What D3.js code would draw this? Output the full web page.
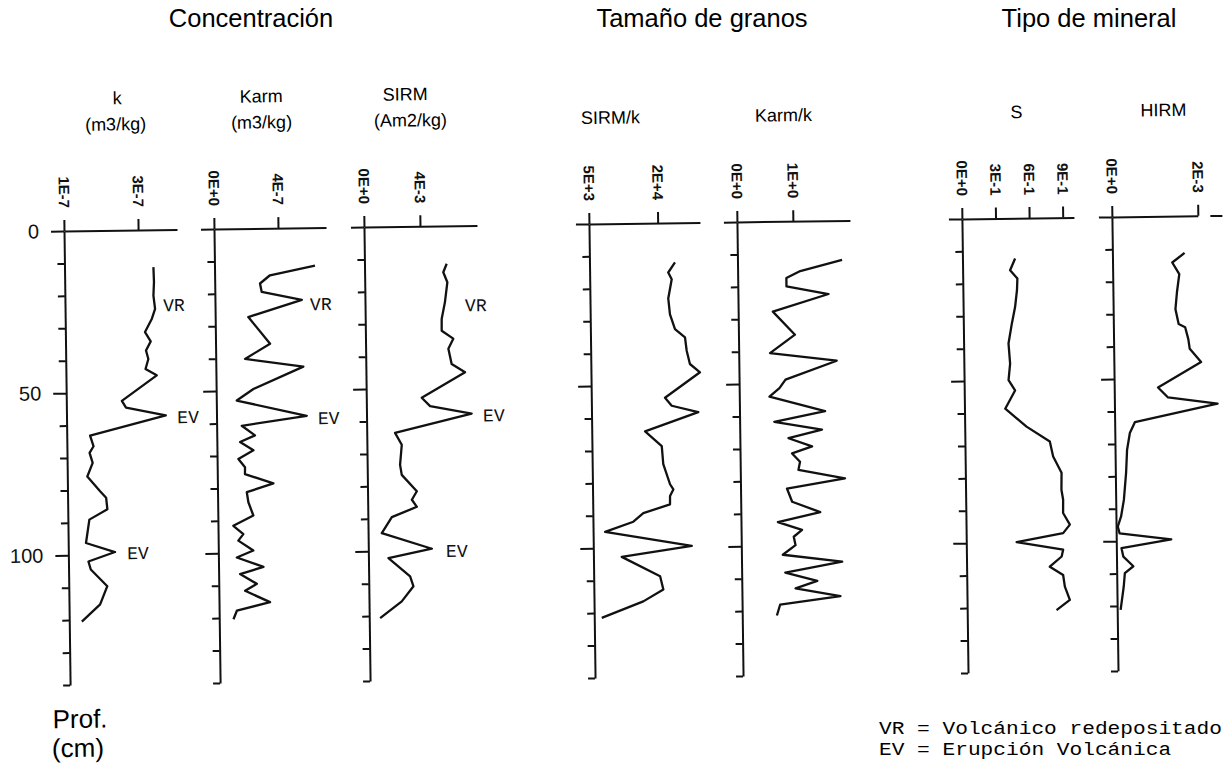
<!DOCTYPE html>
<html>
<head>
<meta charset="utf-8">
<script src="https://cdn.jsdelivr.net/npm/d3@7"></script>
<style>
  body { margin: 0; background: #fff; }
  .sans { font-family: "Liberation Sans", Arial, sans-serif; }
  .mono { font-family: "Liberation Mono", "Courier New", monospace; }
</style>
</head>
<body>
<div id="chart"></div>
<script>
// depth (cm) / value pairs
const kDepth = [11.5,16.1,20.3,24.4,27.4,31.5,34.4,37.2,39.8,42.9,44.9,52.6,54.7,57.3,63.2,66.5,68.5,71.6,75.8,80.4,82.4,86,89.1,96.3,99.2,102,104.5,109.7,115.3,120.5];
const kVal = [3.40,3.41,3.39,3.43,3.34,3.15,3.30,3.17,3.23,3.15,3.45,2.50,2.61,3.68,1.63,1.72,1.61,1.69,1.54,1.88,2.04,2.07,1.58,1.48,2.26,1.54,1.60,2.04,1.84,1.34].map(v => v * 1e-7);

const karmDepth = [11.7,14.5,17,19.6,22.2,27.3,35.6,40.2,42.8,49.5,53,58,60.8,63.8,65.8,68.4,71,73.6,75.7,78.7,81.3,84.4,88.5,91.6,94.2,96.2,99.3,101.4,104.4,106.5,109.6,111.7,115.3,117.8,120.4];
const karmVal = [6.28,3.46,2.83,2.93,5.43,2.07,3.41,1.83,5.47,2.33,1.28,5.64,1.57,2.39,1.45,2.28,1.33,1.74,1.73,3.5,1.83,1.92,2.22,0.96,1.58,1.26,2.19,1.15,2.81,1.34,2.38,1.64,3.19,1.11,0.89].map(v => v * 1e-7);

const sirmDepth = [11.7,14.3,17.4,23.5,28.7,32.3,34.8,37.9,42.6,45.2,52.9,55.5,58,63.6,67.3,73.5,76.6,81.7,84.3,86.5,89.6,94.5,99.5,102.2,107.9,111,115.6,120.7];
const sirmVal = [5.87,5.62,5.9,5.71,5.46,5.45,6.27,5.91,6.13,7.08,3.96,4.55,7.51,2.02,2.49,2.35,2.46,3.52,3.16,3.51,1.71,0.98,4.54,1.43,2.96,3.19,2.34,0.78].map(v => v * 1e-3);

const sirmkDepth = [12.2,15.3,17.4,23.3,28.2,32.8,35.4,39.5,43.6,46.2,53.9,56.4,58.5,64.2,68.8,74.4,80.6,82.2,84.2,86.8,89.4,92,95,99.7,102.8,108.9,113,116.6,121.5];
const sirmkVal = [23665,22160,22900,22090,22420,23470,25630,25960,26630,28800,21090,22530,28310,16640,20240,20520,21940,22640,21900,21870,16020,13820,7620,26500,11180,19500,20170,15760,6640];

const karmkDepth = [12.1,15.4,17.5,20.1,22.6,27.8,35,40.6,43.2,48.8,51.4,54,58.7,61.8,64.4,66.9,69.5,71.6,74.2,76.7,79.5,82.4,86.5,89.8,92.7,95.2,97.3,99.9,102.8,105.2,108.3,111,113.2,115.8,118.2,121.5];
const karmkVal = [1.87,1.12,0.87,0.87,1.62,0.62,1.01,0.56,1.75,0.83,0.72,0.54,1.53,0.62,1.47,0.87,1.29,0.93,1.07,1.04,1.87,0.83,0.92,1.42,0.66,1.09,0.94,0.97,0.74,1.80,0.78,1.35,0.96,1.76,0.68,0.62];

const sDepth = [12.4,16,18.6,22.2,27.4,32.5,38.6,44.8,49.9,53.1,58.7,64.3,69,73.6,78.7,83.9,87,91.1,94.7,97.3,99.9,102.4,104.5,107.6,110.2,113.8,117.9,121];
const sVal = [0.470,0.424,0.488,0.483,0.464,0.433,0.401,0.413,0.397,0.454,0.364,0.552,0.758,0.786,0.859,0.856,0.87,0.868,0.927,0.866,0.45,0.864,0.85,0.743,0.861,0.875,0.918,0.798];

const hirmDepth = [11.4,14.3,17.9,23.5,28.7,33.3,34.3,38,41,45.1,52.8,55.9,58,63.4,66.7,71.9,79,87.3,92.4,95.5,97.6,99.7,102.2,104.8,107.8,109.9,114,121.2];
const hirmVal = [1.68,1.39,1.55,1.49,1.45,1.52,1.67,1.74,1.77,2.03,1.02,1.25,2.40,0.47,0.35,0.28,0.25,0.19,0.12,0.04,0.08,1.28,0.12,0.16,0.39,0.19,0.16,0.08].map(v => v * 1e-3);

// top axis ticks
const kTicks = [1e-7, 3e-7], kTickLabels = ["1E-7", "3E-7"];
const karmTicks = [0, 4e-7], karmTickLabels = ["0E+0", "4E-7"];
const sirmTicks = [0, 4e-3], sirmTickLabels = ["0E+0", "4E-3"];
const sirmkTicks = [5e3, 2e4], sirmkTickLabels = ["5E+3", "2E+4"];
const karmkTicks = [0, 1], karmkTickLabels = ["0E+0", "1E+0"];
const sTicks = [0, 0.3, 0.6, 0.9], sTickLabels = ["0E+0", "3E-1", "6E-1", "9E-1"];
const hirmTicks = [0, 2e-3], hirmTickLabels = ["0E+0", "2E-3"];

const depthTicks = d3.range(0, 141, 10);

// VR / EV marks (panel index, depth, value at left edge of text)
const annText = ["VR", "EV", "EV", "VR", "EV", "VR", "EV", "EV"];
const annPanel = [0, 0, 0, 1, 1, 2, 2, 2];
const annDepth = [23.2, 57.8, 99.5, 23.5, 58.7, 24.5, 58.5, 100.2];
const annVal = [3.65e-7, 3.99e-7, 2.59e-7, 5.94e-7, 6.34e-7, 7.14e-3, 8.32e-3, 5.55e-3];

const legendLines = ["VR = Volcánico redepositado", "EV = Erupción Volcánica"];

const width = 1224, height = 771;

let svg = d3.select("#chart").append("svg")
    .attr("width", width).attr("height", height)
    .style("display", "block");

svg.append("rect").attr("width", width).attr("height", height).attr("fill", "#fff");

// group titles (level)
const titles = [["Concentración", 251], ["Tamaño de granos", 702], ["Tipo de mineral", 1089]];
svg.selectAll(".title").data(titles).join("text")
    .attr("class", "title sans")
    .attr("x", d => d[1]).attr("y", 27)
    .attr("text-anchor", "middle")
    .style("font-size", "25.5px")
    .text(d => d[0]);

// legend, typewriter face stretched to the printed width
svg.selectAll(".legend").data(legendLines).join("text")
    .attr("class", "legend mono")
    .attr("x", 879).attr("y", (d, j) => 734 + j * 21)
    .style("font-size", "18px")
    .attr("textLength", d => d.length * 12.7)
    .attr("lengthAdjust", "spacingAndGlyphs")
    .text(d => d);

// the scanned figure is slightly tilted
let plot = svg.append("g").attr("transform", "rotate(-0.77, 64, 231)");

let y = d3.scaleLinear().domain([0, 140]).range([231, 685]);

const panels = [
    {domain: [1e-7, 4.05e-7], range: [64, 177], ticks: kTicks, labels: kTickLabels, depth: kDepth, val: kVal, head: ["k", "(m3/kg)"], hx: [55, 53]},
    {domain: [0, 7.0e-7], range: [214, 326], ticks: karmTicks, labels: karmTickLabels, depth: karmDepth, val: karmVal, head: ["Karm", "(m3/kg)"], hx: [49, 49]},
    {domain: [0, 8.07e-3], range: [364, 477], ticks: sirmTicks, labels: sirmTickLabels, depth: sirmDepth, val: sirmVal, head: ["SIRM", "(Am2/kg)"], hx: [43, 48]},
    {domain: [5e3, 29230], range: [589, 700], ticks: sirmkTicks, labels: sirmkTickLabels, depth: sirmkDepth, val: sirmkVal, head: [null, "SIRM/k"], hx: [0, 23]},
    {domain: [0, 2.02], range: [737, 850], ticks: karmkTicks, labels: karmkTickLabels, depth: karmkDepth, val: karmkVal, head: [null, "Karm/k"], hx: [0, 48]},
    {domain: [0, 1.0], range: [962, 1074], ticks: sTicks, labels: sTickLabels, depth: sDepth, val: sVal, head: [null, "S"], hx: [0, 56]},
    {domain: [0, 2.56e-3], range: [1112, 1222], ticks: hirmTicks, labels: hirmTickLabels, depth: hirmDepth, val: hirmVal, head: [null, "HIRM"], hx: [0, 53]}
];

const ink = "#111";

panels.forEach((p, i) => {
    let g = plot.append("g");
    let x = d3.scaleLinear().domain(p.domain).range(p.range);
    p.x = x;

    // depth axis
    const yAxis = d3.axisLeft(y)
        .tickValues(depthTicks)
        .tickSize(7)
        .tickSizeOuter(0)
        .tickFormat(d => i === 0 && d % 50 === 0 ? d : "");
    let ga = g.append("g")
        .attr("transform", `translate(${p.range[0]},0)`)
        .call(yAxis);
    ga.selectAll(".tick line").attr("x2", d => d % 50 === 0 && d < 140 ? -13 : -7);
    ga.selectAll(".tick text").attr("x", -25)
        .attr("class", "sans").style("font-size", "20px").attr("fill", ink);

    // value axis along the top
    const xAxis = d3.axisTop(x)
        .tickValues(p.ticks)
        .tickSize(11)
        .tickSizeOuter(0)
        .tickFormat((d, j) => p.labels[j]);
    let gx = g.append("g")
        .attr("transform", `translate(0,${y(0)})`)
        .call(xAxis);
    gx.selectAll(".tick text")
        .attr("transform", "rotate(90)")
        .attr("x", -23).attr("y", 0).attr("dy", "0.35em")
        .attr("text-anchor", "end")
        .attr("class", "sans")
        .style("font-size", "15px").style("font-weight", "bold")
        .attr("fill", ink);
    if (i === 6) {
        // gap in the printed axis line after the last tick
        gx.select(".domain").attr("stroke-dasharray",
            `${x(2e-3) - x(0)} ${x(2.28e-3) - x(2e-3)} 200`);
    }

    [ga, gx].forEach(a => {
        a.selectAll("path, line").attr("stroke", ink).attr("stroke-width", 2);
    });

    // profile line
    g.append("path")
        .datum(d3.zip(p.depth, p.val))
        .attr("fill", "none")
        .attr("stroke", ink)
        .attr("stroke-width", 2.3)
        .attr("stroke-linejoin", "round")
        .attr("d", d3.line().x(d => x(d[1])).y(d => y(d[0])));

    // headers
    if (p.head[0]) {
        g.append("text").attr("class", "sans")
            .attr("x", p.range[0] + p.hx[0]).attr("y", 105)
            .attr("text-anchor", "middle").style("font-size", "18px")
            .text(p.head[0]);
    }
    g.append("text").attr("class", "sans")
        .attr("x", p.range[0] + p.hx[1]).attr("y", 131)
        .attr("text-anchor", "middle").style("font-size", "18px")
        .text(p.head[1]);
});

// VR / EV labels
plot.selectAll(".ann")
    .data(d3.range(annText.length))
    .join("text")
    .attr("class", "ann mono")
    .attr("x", j => panels[annPanel[j]].x(annVal[j]))
    .attr("y", j => y(annDepth[j]))
    .attr("dy", "0.35em")
    .style("font-size", "18px")
    .attr("fill", ink)
    .text(j => annText[j]);

// depth caption
plot.append("text").attr("class", "sans").attr("x", 46).attr("y", 728)
    .style("font-size", "26px").text("Prof.");
plot.append("text").attr("class", "sans").attr("x", 45).attr("y", 757)
    .style("font-size", "26px").text("(cm)");
</script>
</body>
</html>
